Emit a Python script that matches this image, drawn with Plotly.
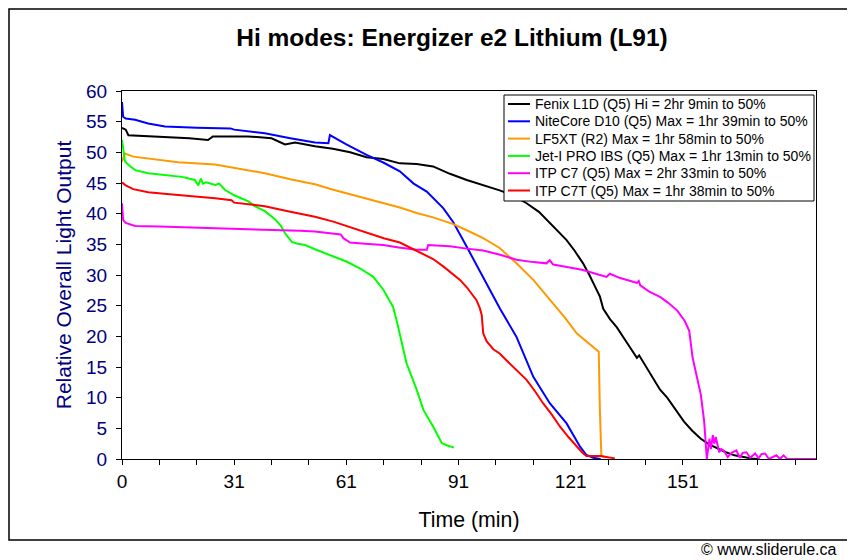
import plotly.graph_objects as go

# ---------------- data (x = sample index, tick labels show minutes) ----------------
fenix_x = [0, 1, 1.7, 5, 11.5, 18, 23, 24.3, 30, 33.7, 40, 43.6, 46.3, 51.6, 56.4, 61, 65.4, 69.9,
           74.3, 78.8, 83.2, 87.7, 92.2, 96, 101, 104.5, 108.2, 111.5, 114.4, 116.5, 118.9, 121,
           123.3, 125, 126, 127, 127.8, 128.7, 130.5, 132.3, 135, 137.7, 138.3, 139, 141.3, 143.9,
           145.8, 148, 150.3, 152.5, 154.8, 157, 159.3, 161.5, 163.8, 166, 168.3, 170]
fenix_y = [54.0, 53.7, 52.8, 52.7, 52.6, 52.3, 52.0, 52.6, 52.6, 52.6, 52.3, 51.3, 51.6, 51.0, 50.6,
           50.0, 49.2, 48.9, 48.2, 48.1, 47.7, 46.5, 45.5, 44.8, 43.8, 43.0, 41.7, 40.3, 38.5, 37.2,
           35.7, 34.0, 31.9, 30.0, 28.6, 27.5, 26.5, 24.5, 22.8, 21.5, 19.0, 16.5, 16.9, 16.2, 13.8,
           11.3, 10.0, 8.0, 6.1, 4.6, 3.3, 2.4, 1.7, 1.1, 0.6, 0.3, 0.1, 0.0]

nitecore_x = [0, 0.3, 1, 3.5, 7, 11.5, 20, 29, 30, 38.2, 45, 51.6, 55.2, 55.6, 60, 65.4, 70, 74.3,
              78, 81.5, 85.9, 88.6, 92.2, 96.6, 101.1, 105.5, 110, 114.4, 118.9, 122.5, 124.2, 126, 128]
nitecore_y = [58.2, 55.8, 55.5, 55.3, 54.7, 54.2, 54.0, 53.9, 53.7, 53.1, 52.3, 51.6, 51.5, 52.8,
              51.3, 49.6, 48.3, 46.9, 44.9, 43.6, 40.9, 38.6, 34.6, 29.7, 24.5, 19.9, 13.4, 9.1,
              5.8, 2.0, 0.65, 0.2, 0.0]

lf5xt_x = [0, 0.8, 3, 7, 15, 24.9, 30, 38.2, 45, 51.6, 56.5, 61, 65.4, 70, 74.3, 78.8, 83.2, 88.6,
           92.2, 96.6, 101, 105.5, 110, 115.3, 118.5, 121.6, 127.5, 127.8, 128.2, 129.4]
lf5xt_y = [48.5, 49.8, 49.3, 49.0, 48.4, 48.0, 47.5, 46.6, 45.6, 44.8, 43.9, 43.2, 42.5, 41.7, 41.0,
           40.1, 39.4, 38.3, 37.3, 36.0, 34.4, 31.9, 29.2, 25.4, 23.0, 20.5, 17.5, 8.0, 0.5, 0.3]

jeti_x = [0, 0.4, 0.8, 2, 3.5, 7, 12, 16, 19.5, 20.4, 21.1, 21.6, 22.5, 24.9, 26, 27.5, 30, 33.8,
          35.6, 38.2, 40.9, 42.5, 43.6, 45.4, 47, 48.9, 51.6, 56.5, 60, 63.6, 67.2, 69.9, 72.5,
          73.4, 74.3, 76.1, 78.8, 80.6, 83.2, 85.5, 87, 88.8]
jeti_y = [52.0, 50.0, 48.5, 47.8, 47.1, 46.6, 46.3, 46.0, 45.5, 44.6, 45.7, 44.9, 45.1, 44.7, 44.9,
          43.9, 43.0, 42.0, 41.2, 40.4, 39.1, 38.0, 36.8, 35.4, 35.1, 34.9, 34.2, 33.0, 32.2, 31.1,
          29.7, 27.6, 24.8, 22.7, 20.5, 15.6, 11.3, 8.0, 5.3, 2.6, 2.2, 1.85]

c7_x = [0, 0.3, 1, 3.5, 10, 16, 24.9, 30, 35.6, 42.7, 47.6, 51.6, 56.5, 58.5, 59.2, 61, 65, 69.9,
        74, 78.8, 81.5, 81.9, 84, 87.7, 92.2, 96.6, 101.1, 105.5, 110, 113.5, 114.4, 115.3, 119,
        123.3, 127.8, 129.6, 130.5, 133.2, 136.7, 137.7, 138.2, 138.6, 141, 144, 146, 148.5,
        150.5, 151.7, 152.6, 153.9, 154.8, 155.7, 156.4, 157.1, 157.5, 158, 158.4, 158.8, 159.7,
        160.3, 161, 162, 163, 164.3, 165.2, 166, 167, 168, 169.3, 170.3, 171, 172, 173, 175, 176,
        176.9, 177.9, 180, 185.6]
c7_y = [41.7, 39.0, 38.5, 38.0, 37.9, 37.8, 37.6, 37.6, 37.5, 37.3, 37.2, 37.1, 36.8, 36.6, 36.0,
        35.3, 35.1, 34.9, 34.5, 34.1, 34.1, 34.9, 34.8, 34.7, 34.3, 34.0, 33.3, 32.5, 32.1, 31.9,
        32.4, 31.7, 31.3, 30.8, 30.0, 29.7, 30.2, 29.5, 28.9, 28.7, 29.0, 28.3, 27.3, 26.4, 25.5,
        24.2, 22.5, 20.9, 16.5, 13.2, 10.5, 6.1, 0.0, 3.3, 1.6, 3.9, 2.5, 3.6, 1.1, 1.6, 1.3, 0.3,
        1.0, 1.4, 0.2, 1.0, 1.1, 0.2, 0.9, 0.1, 0.8, 0.9, 0.0, 0.6, 0.0, 0.6, 0.0, 0.0, 0.0]

c7t_x = [0, 1, 3, 7, 12, 16, 20, 24.9, 29.3, 30, 35.6, 38.2, 45, 51.6, 56.5, 61, 65.4, 70, 74.3, 78,
         80.6, 83.2, 85.9, 88, 90.4, 92.2, 93.9, 94.8, 95.7, 96.2, 96.6, 97.5, 99.3, 101, 102.8,
         105.5, 108.2, 110.5, 112.6, 115, 117.1, 119.5, 121.6, 123, 124.2, 128, 131.8]
c7t_y = [45.1, 44.6, 44.0, 43.5, 43.2, 43.0, 42.7, 42.5, 42.2, 41.8, 41.4, 41.2, 40.3, 39.5, 38.7,
         37.8, 36.8, 36.0, 35.3, 34.2, 33.5, 32.6, 31.4, 30.4, 29.2, 28.0, 26.5, 25.9, 24.6, 23.5,
         20.5, 19.2, 17.9, 17.2, 16.1, 14.5, 12.9, 11.0, 9.1, 7.2, 5.3, 3.5, 2.0, 1.1, 0.5, 0.5, 0.1]

series_names = [
    "Fenix L1D (Q5) Hi = 2hr 9min to 50%",
    "NiteCore D10 (Q5) Max = 1hr 39min to 50%",
    "LF5XT (R2) Max = 1hr 58min to 50%",
    "Jet-I PRO IBS (Q5) Max = 1hr 13min to 50%",
    "ITP C7 (Q5) Max = 2hr 33min to 50%",
    "ITP C7T (Q5) Max = 1hr 38min to 50%",
]
series_colors = ["#000000", "#0000FF", "#FF9900", "#00FF00", "#FF00FF", "#FF0000"]
series_x = [fenix_x, nitecore_x, lf5xt_x, jeti_x, c7_x, c7t_x]
series_y = [fenix_y, nitecore_y, lf5xt_y, jeti_y, c7_y, c7t_y]

x_tickvals = list(range(0, 190, 10))
x_label_map = {0: "0", 30: "31", 60: "61", 90: "91", 120: "121", 150: "151"}
x_ticktext = [x_label_map.get(v, "") for v in x_tickvals]

FONT = "Liberation Sans, Arial, sans-serif"
NAVY = "#000080"

# page body has an 8px default margin: figure is sized/margined to compensate
OFF = 8
W, H = 855 - OFF, 560 - OFF
PL, PR, PT, PB = 122, 816, 91, 459          # plot-area edges in window pixels
PW, PH = PR - PL, PB - PT


def px(xpix):
    return (xpix - PL) / PW


def py(ypix):
    return (PB - ypix) / PH


fig = go.Figure()
for name, col, xs, ys in zip(series_names, series_colors, series_x, series_y):
    fig.add_trace(go.Scatter(x=xs, y=ys, mode="lines", name=name,
                             line=dict(color=col, width=2), showlegend=False))

# chart-area frame and hand-built legend box (Excel-like compact spacing)
shapes = [
    dict(type="rect", xref="paper", yref="paper",
         x0=px(OFF + 1), x1=px(851), y0=py(540), y1=py(OFF + 1),
         line=dict(color="black", width=1.5), fillcolor="rgba(0,0,0,0)", layer="below"),
    dict(type="rect", xref="paper", yref="paper",
         x0=px(504), x1=px(814), y0=py(201), y1=py(95),
         line=dict(color="black", width=1), fillcolor="white", layer="above"),
]
annotations = []
row0, rowstep = 104, 17.3
for i, (name, col) in enumerate(zip(series_names, series_colors)):
    yy = py(row0 + i * rowstep)
    shapes.append(dict(type="line", xref="paper", yref="paper",
                       x0=px(508), x1=px(530), y0=yy, y1=yy,
                       line=dict(color=col, width=2), layer="above"))
    annotations.append(dict(text=name, xref="paper", yref="paper", x=px(533), y=yy,
                            xanchor="left", yanchor="middle", showarrow=False,
                            font=dict(family=FONT, size=14, color="black")))

annotations.append(dict(text="© www.sliderule.ca", xref="paper", yref="paper",
                        x=px(838), y=py(549), xanchor="right", yanchor="middle",
                        showarrow=False, font=dict(family=FONT, size=16, color="black")))

fig.update_layout(
    width=W, height=H,
    margin=dict(l=PL - OFF, r=855 - PR, t=PT - OFF, b=560 - PB, pad=0),
    paper_bgcolor="white", plot_bgcolor="white",
    font=dict(family=FONT, color="black"),
    title=dict(text="<b>Hi modes: Energizer e2 Lithium (L91)</b>",
               font=dict(family=FONT, size=24.5, color="black"),
               x=(452 - OFF) / W, xref="container", xanchor="center",
               y=1 - (37 - OFF) / H, yref="container", yanchor="middle"),
    showlegend=False,
    xaxis=dict(range=[0, 185.6], tickmode="array", tickvals=x_tickvals, ticktext=x_ticktext,
               ticks="outside", ticklen=5, tickcolor="black", tickwidth=1,
               showline=True, linecolor="black", linewidth=1, mirror=True,
               showgrid=False, zeroline=False,
               tickfont=dict(family=FONT, size=19, color="black"),
               title=dict(text="Time (min)", font=dict(family=FONT, size=21.3, color="black"),
                          standoff=21)),
    yaxis=dict(range=[0, 60], tickmode="linear", tick0=0, dtick=5,
               ticks="outside", ticklen=5, tickcolor="black", tickwidth=1,
               showline=True, linecolor="black", linewidth=1, mirror=True,
               showgrid=False, zeroline=False, ticklabelstandoff=5,
               tickfont=dict(family=FONT, size=19, color=NAVY),
               title=dict(text="Relative Overall Light Output",
                          font=dict(family=FONT, size=21, color=NAVY), standoff=8)),
    shapes=shapes,
    annotations=annotations,
)

fig.write_html("out.html")
